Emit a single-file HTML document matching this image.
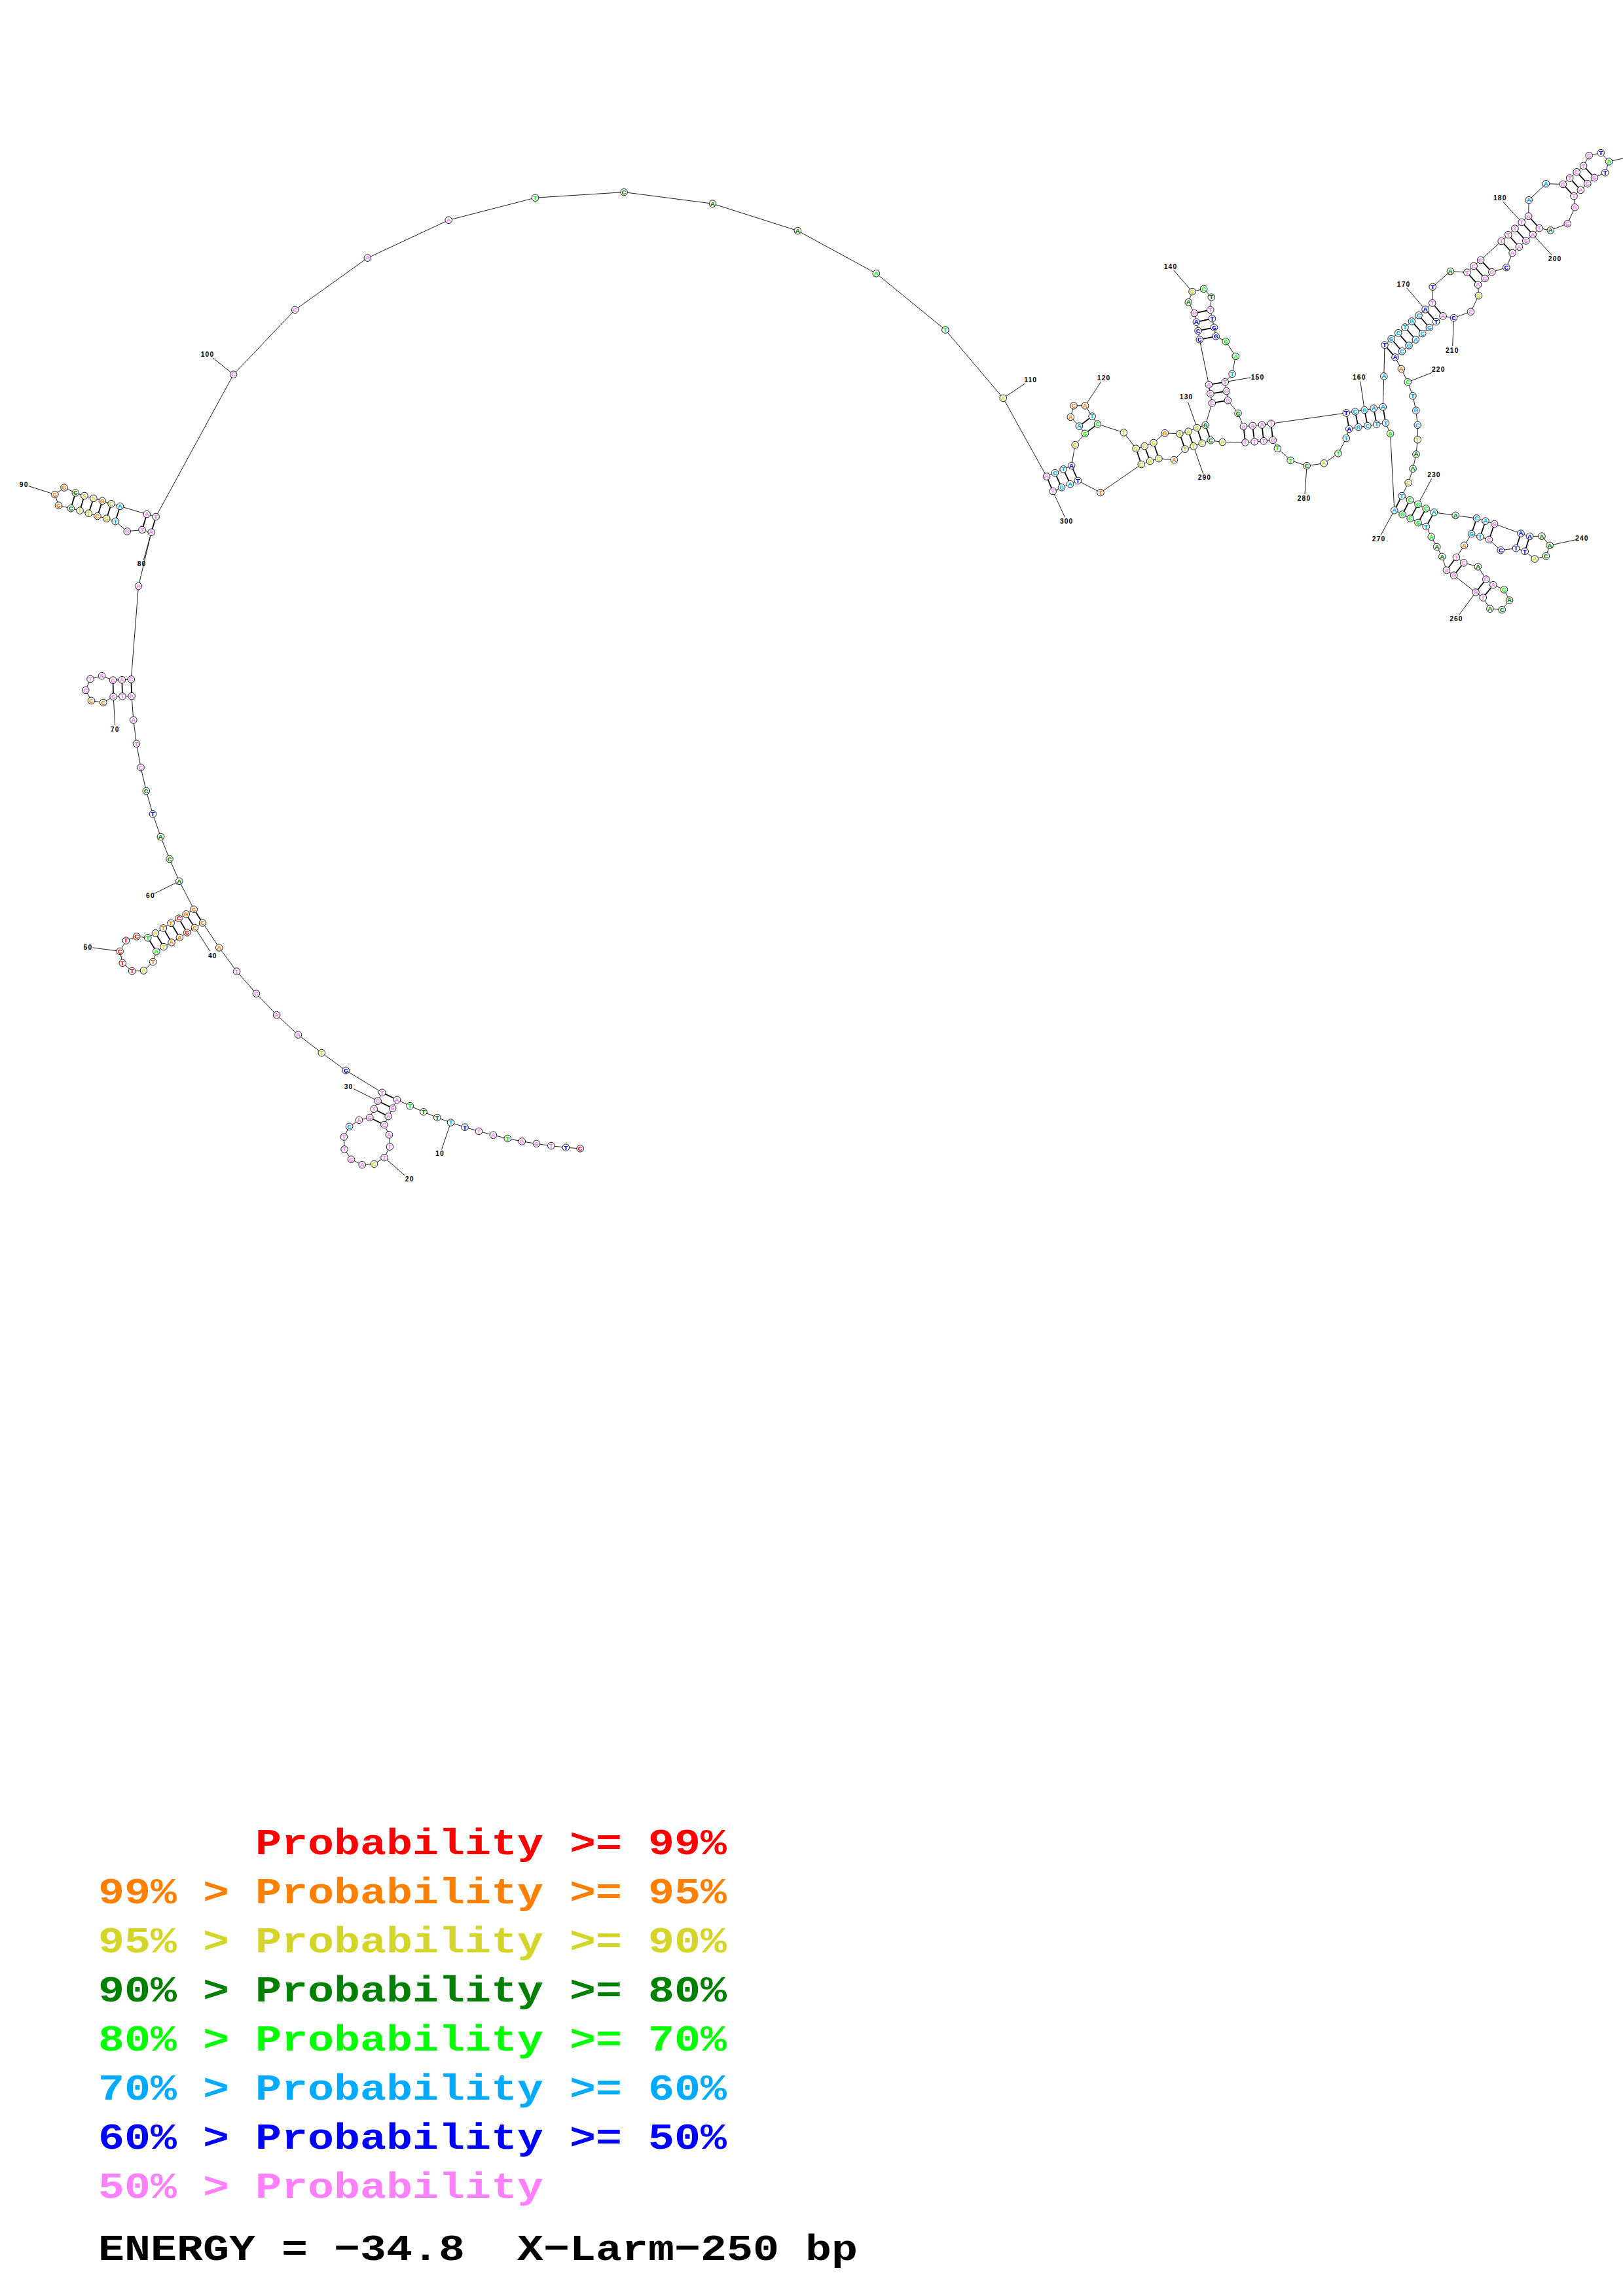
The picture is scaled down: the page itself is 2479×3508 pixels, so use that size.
<!DOCTYPE html>
<html lang="en"><head><meta charset="utf-8"><title>X-Larm-250 bp</title>
<style>
html,body{margin:0;padding:0;background:#fff;}
body{width:2479px;height:3508px;overflow:hidden;}
svg{display:block;}
.bb{fill:none;stroke:#000;stroke-width:0.9;stroke-linejoin:round;}
.lb{stroke:#000;stroke-width:0.9;}
.bp{stroke:#000;stroke-width:1.7;}
.nc{fill:#fff;stroke:#000;stroke-width:0.9;}
.nt{font-family:"Liberation Mono",monospace;font-weight:bold;font-size:10.5px;text-anchor:middle;}
.nl{font-family:"Liberation Sans",sans-serif;font-weight:bold;font-size:10.3px;text-anchor:middle;letter-spacing:1.1px;fill:#000;}
.lg{font-family:"Liberation Mono",monospace;font-weight:bold;font-size:66.67px;white-space:pre;}

.r{fill:#ff0000;}
.o{fill:#ff8000;}
.y{fill:#d4d42b;}
.d{fill:#008000;}
.g{fill:#00ff00;}
.c{fill:#00abff;}
.b{fill:#0000ff;}
.p{fill:#ff80ff;}
</style></head><body>
<svg width="2479" height="3508" viewBox="0 0 2479 3508">
<rect width="2479" height="3508" fill="#fff"/>
<polyline class="bb" points="886.2,1754.8 864.3,1753.3 841.8,1750.6 819.4,1747.4 797.2,1743.9 775.3,1739.5 753.4,1734.3 731.4,1728.4 710.0,1722.2 688.5,1715.1 667.8,1707.5 646.9,1698.8 626.2,1689.7 606.5,1680.3 599.6,1693.2 593.2,1705.7 586.8,1718.5 594.4,1733.8 595.4,1752.1 587.0,1768.6 571.5,1778.4 553.2,1779.7 536.5,1771.3 526.1,1756.0 525.4,1737.0 533.5,1721.3 548.6,1711.4 564.8,1707.5 571.2,1694.4 577.1,1682.1 583.8,1669.3 528.2,1635.5 491.3,1608.7 455.5,1581.0 422.6,1550.8 391.4,1518.1 361.6,1484.2 334.8,1447.9 309.5,1410.0 297.5,1417.4 285.8,1424.8 274.4,1432.5 262.0,1439.9 250.0,1446.6 238.9,1453.7 233.7,1469.7 219.5,1483.0 201.7,1483.6 187.2,1471.3 183.2,1453.4 192.4,1437.1 208.7,1430.9 225.7,1432.8 237.4,1425.7 249.4,1418.0 261.1,1410.3 273.1,1403.2 284.2,1396.7 296.2,1389.3 273.8,1346.3 259.0,1312.5 245.4,1278.5 233.4,1243.8 223.3,1208.5 215.1,1172.6 208.5,1136.3 203.8,1100.1 201.1,1063.6 187.0,1063.9 173.2,1064.4 157.7,1073.5 139.5,1070.5 130.8,1054.5 138.0,1037.5 155.5,1032.6 172.5,1039.2 186.3,1038.7 200.3,1038.0 211.5,895.5 231.2,813.2 217.1,809.5 194.2,811.9 176.2,796.6 162.7,792.2 148.9,788.5 135.3,784.3 122.0,780.1 108.2,776.7 89.5,772.2 83.8,755.5 98.1,745.1 115.3,753.0 128.9,757.5 142.9,761.4 156.3,765.3 170.1,769.8 183.4,773.5 224.3,785.6 238.1,789.5 356.6,572.2 450.6,473.4 561.4,394.1 685.2,336.3 817.6,302.2 953.1,293.6 1088.5,311.2 1218.4,352.6 1338.3,417.8 1443.9,504.0 1532.3,608.4 1598.6,728.0 1611.4,722.6 1624.2,716.9 1636.6,711.5 1642.2,679.7 1657.3,662.4 1648.4,651.1 1635.3,637.3 1640.0,619.8 1657.5,619.8 1668.1,636.0 1676.5,647.9 1716.4,660.9 1735.2,685.3 1748.2,681.6 1762.0,676.5 1779.3,661.7 1801.9,662.9 1815.2,659.2 1828.3,653.5 1841.2,649.4 1851.3,615.9 1848.8,601.6 1846.4,587.8 1832.3,518.8 1830.1,505.4 1827.4,492.1 1824.4,478.6 1815.3,461.8 1821.0,445.6 1838.7,441.4 1850.3,454.2 1848.8,473.4 1851.5,486.7 1854.5,500.3 1857.2,513.8 1872.2,521.7 1887.3,544.4 1882.1,571.3 1871.3,583.6 1873.2,597.6 1875.4,611.7 1891.0,631.4 1899.4,651.6 1913.2,650.4 1927.4,649.1 1941.5,647.2 2056.3,630.9 2069.9,628.9 2084.2,626.5 2098.2,624.0 2112.3,621.8 2113.8,574.9 2115.0,527.1 2125.1,517.8 2135.7,508.7 2146.0,500.0 2156.4,490.9 2167.0,481.8 2177.1,472.9 2187.7,463.0 2188.2,438.2 2215.4,414.6 2240.9,416.2 2251.1,406.4 2261.6,397.4 2293.2,368.5 2303.8,358.7 2313.9,349.1 2324.3,339.5 2334.6,330.3 2335.2,305.7 2361.4,280.7 2387.3,281.5 2397.7,272.1 2408.2,262.8 2418.6,253.4 2427.2,237.7 2445.2,233.6 2457.7,246.9 2451.8,263.7 2435.4,271.5 2424.8,280.7 2414.3,290.4 2404.0,299.6 2405.4,316.8 2394.3,341.7 2368.3,351.9 2351.3,348.6 2341.3,358.4 2330.8,368.0 2320.4,377.2 2310.1,386.5 2300.8,408.7 2278.8,415.7 2268.1,425.5 2257.6,435.1 2258.5,451.7 2246.5,476.3 2220.5,485.7 2204.0,482.8 2193.6,491.6 2183.3,500.5 2172.7,509.6 2162.3,519.0 2152.0,527.9 2141.4,536.7 2131.0,545.9 2140.4,563.6 2150.2,583.8 2157.9,604.8 2162.8,627.2 2165.3,649.4 2165.3,671.8 2163.0,694.0 2158.1,716.2 2151.2,737.6 2141.1,757.6 2153.4,764.0 2166.0,770.4 2178.1,776.9 2190.4,782.8 2223.2,787.5 2255.5,791.9 2269.0,796.1 2282.6,800.5 2323.0,815.1 2336.5,819.5 2355.0,819.2 2367.1,833.3 2361.4,849.6 2344.2,854.0 2329.2,842.4 2315.6,837.7 2292.2,840.7 2274.4,824.4 2260.9,820.0 2247.6,815.6 2236.5,833.3 2224.4,851.5 2235.7,859.9 2257.4,865.8 2269.8,885.1 2280.8,893.7 2297.4,900.8 2305.5,917.1 2294.2,931.6 2275.9,930.2 2265.3,913.1 2254.0,905.0 2220.7,879.1 2209.4,871.3 2202.7,850.5 2194.8,835.5 2186.2,820.2 2178.3,804.5 2166.0,798.5 2154.2,792.1 2142.1,786.0 2129.8,779.8 2123.6,662.4 2116.5,646.2 2102.7,648.1 2088.9,650.6 2074.8,652.6 2060.8,655.3 2056.3,669.6 2044.0,692.8 2022.3,707.8 1996.0,711.7 1971.1,703.4 1951.4,685.1 1944.2,672.5 1930.2,673.8 1916.1,674.8 1902.1,676.0 1867.3,675.5 1849.3,672.8 1836.2,677.2 1823.1,681.9 1810.1,686.1 1793.3,702.6 1769.9,700.6 1756.6,704.6 1743.3,709.5 1680.9,752.6 1646.4,734.4 1634.6,739.6 1621.5,744.7 1608.2,750.6"/>
<g class="lb">
<line x1="688.5" y1="1715.1" x2="674.5" y2="1756.5"/>
<line x1="587.0" y1="1768.6" x2="618.3" y2="1795.9"/>
<line x1="577.1" y1="1682.1" x2="540.2" y2="1663.6"/>
<line x1="297.5" y1="1417.4" x2="320.6" y2="1453.1"/>
<line x1="183.2" y1="1453.4" x2="141.6" y2="1447.9"/>
<line x1="273.8" y1="1346.3" x2="235.6" y2="1365.3"/>
<line x1="173.2" y1="1064.4" x2="175.7" y2="1108.2"/>
<line x1="231.2" y1="813.2" x2="219.3" y2="855.8"/>
<line x1="83.8" y1="755.5" x2="43.9" y2="742.7"/>
<line x1="356.6" y1="572.2" x2="325.1" y2="546.7"/>
<line x1="1532.3" y1="608.4" x2="1565.8" y2="585.8"/>
<line x1="1657.5" y1="619.8" x2="1681.7" y2="583.3"/>
<line x1="1828.3" y1="653.5" x2="1814.3" y2="613.9"/>
<line x1="1821.0" y1="445.6" x2="1792.4" y2="412.5"/>
<line x1="1871.3" y1="583.6" x2="1910.2" y2="576.9"/>
<line x1="2084.2" y1="626.5" x2="2077.8" y2="582.6"/>
<line x1="2177.1" y1="472.9" x2="2148.7" y2="439.9"/>
<line x1="2324.3" y1="339.5" x2="2295.5" y2="308.1"/>
<line x1="2457.7" y1="246.9" x2="2493.2" y2="238.6"/>
<line x1="2341.3" y1="358.4" x2="2370.3" y2="389.8"/>
<line x1="2220.5" y1="485.7" x2="2218.7" y2="529.1"/>
<line x1="2150.2" y1="583.8" x2="2187.4" y2="569.3"/>
<line x1="2166.0" y1="770.4" x2="2186.7" y2="731.3"/>
<line x1="2367.1" y1="833.3" x2="2406.8" y2="824.7"/>
<line x1="2254.0" y1="905.0" x2="2228.6" y2="939.5"/>
<line x1="2129.8" y1="779.8" x2="2109.1" y2="817.5"/>
<line x1="1996.0" y1="711.7" x2="1993.0" y2="755.1"/>
<line x1="1823.1" y1="681.9" x2="1837.7" y2="723.8"/>
<line x1="1608.2" y1="750.6" x2="1626.5" y2="790.3"/>
</g>
<g class="bp">
<line x1="606.5" y1="1680.3" x2="583.8" y2="1669.3"/>
<line x1="599.6" y1="1693.2" x2="577.1" y2="1682.1"/>
<line x1="593.2" y1="1705.7" x2="571.2" y2="1694.4"/>
<line x1="586.8" y1="1718.5" x2="564.8" y2="1707.5"/>
<line x1="309.5" y1="1410.0" x2="296.2" y2="1389.3"/>
<line x1="297.5" y1="1417.4" x2="284.2" y2="1396.7"/>
<line x1="285.8" y1="1424.8" x2="273.1" y2="1403.2"/>
<line x1="274.4" y1="1432.5" x2="261.1" y2="1410.3"/>
<line x1="262.0" y1="1439.9" x2="249.4" y2="1418.0"/>
<line x1="250.0" y1="1446.6" x2="237.4" y2="1425.7"/>
<line x1="238.9" y1="1453.7" x2="225.7" y2="1432.8"/>
<line x1="201.1" y1="1063.6" x2="200.3" y2="1038.0"/>
<line x1="187.0" y1="1063.9" x2="186.3" y2="1038.7"/>
<line x1="173.2" y1="1064.4" x2="172.5" y2="1039.2"/>
<line x1="231.2" y1="813.2" x2="238.1" y2="789.5"/>
<line x1="217.1" y1="809.5" x2="224.3" y2="785.6"/>
<line x1="176.2" y1="796.6" x2="183.4" y2="773.5"/>
<line x1="162.7" y1="792.2" x2="170.1" y2="769.8"/>
<line x1="148.9" y1="788.5" x2="156.3" y2="765.3"/>
<line x1="135.3" y1="784.3" x2="142.9" y2="761.4"/>
<line x1="122.0" y1="780.1" x2="128.9" y2="757.5"/>
<line x1="108.2" y1="776.7" x2="115.3" y2="753.0"/>
<line x1="1598.6" y1="728.0" x2="1608.2" y2="750.6"/>
<line x1="1611.4" y1="722.6" x2="1621.5" y2="744.7"/>
<line x1="1624.2" y1="716.9" x2="1634.6" y2="739.6"/>
<line x1="1636.6" y1="711.5" x2="1646.4" y2="734.4"/>
<line x1="1657.3" y1="662.4" x2="1676.5" y2="647.9"/>
<line x1="1648.4" y1="651.1" x2="1668.1" y2="636.0"/>
<line x1="1735.2" y1="685.3" x2="1743.3" y2="709.5"/>
<line x1="1748.2" y1="681.6" x2="1756.6" y2="704.6"/>
<line x1="1762.0" y1="676.5" x2="1769.9" y2="700.6"/>
<line x1="1801.9" y1="662.9" x2="1810.1" y2="686.1"/>
<line x1="1815.2" y1="659.2" x2="1823.1" y2="681.9"/>
<line x1="1828.3" y1="653.5" x2="1836.2" y2="677.2"/>
<line x1="1841.2" y1="649.4" x2="1849.3" y2="672.8"/>
<line x1="1851.3" y1="615.9" x2="1875.4" y2="611.7"/>
<line x1="1848.8" y1="601.6" x2="1873.2" y2="597.6"/>
<line x1="1846.4" y1="587.8" x2="1871.3" y2="583.6"/>
<line x1="1832.3" y1="518.8" x2="1857.2" y2="513.8"/>
<line x1="1830.1" y1="505.4" x2="1854.5" y2="500.3"/>
<line x1="1827.4" y1="492.1" x2="1851.5" y2="486.7"/>
<line x1="1824.4" y1="478.6" x2="1848.8" y2="473.4"/>
<line x1="1899.4" y1="651.6" x2="1902.1" y2="676.0"/>
<line x1="1913.2" y1="650.4" x2="1916.1" y2="674.8"/>
<line x1="1927.4" y1="649.1" x2="1930.2" y2="673.8"/>
<line x1="1941.5" y1="647.2" x2="1944.2" y2="672.5"/>
<line x1="2056.3" y1="630.9" x2="2060.8" y2="655.3"/>
<line x1="2069.9" y1="628.9" x2="2074.8" y2="652.6"/>
<line x1="2084.2" y1="626.5" x2="2088.9" y2="650.6"/>
<line x1="2098.2" y1="624.0" x2="2102.7" y2="648.1"/>
<line x1="2112.3" y1="621.8" x2="2116.5" y2="646.2"/>
<line x1="2115.0" y1="527.1" x2="2131.0" y2="545.9"/>
<line x1="2125.1" y1="517.8" x2="2141.4" y2="536.7"/>
<line x1="2135.7" y1="508.7" x2="2152.0" y2="527.9"/>
<line x1="2146.0" y1="500.0" x2="2162.3" y2="519.0"/>
<line x1="2156.4" y1="490.9" x2="2172.7" y2="509.6"/>
<line x1="2167.0" y1="481.8" x2="2183.3" y2="500.5"/>
<line x1="2177.1" y1="472.9" x2="2193.6" y2="491.6"/>
<line x1="2187.7" y1="463.0" x2="2204.0" y2="482.8"/>
<line x1="2240.9" y1="416.2" x2="2257.6" y2="435.1"/>
<line x1="2251.1" y1="406.4" x2="2268.1" y2="425.5"/>
<line x1="2261.6" y1="397.4" x2="2278.8" y2="415.7"/>
<line x1="2293.2" y1="368.5" x2="2310.1" y2="386.5"/>
<line x1="2303.8" y1="358.7" x2="2320.4" y2="377.2"/>
<line x1="2313.9" y1="349.1" x2="2330.8" y2="368.0"/>
<line x1="2324.3" y1="339.5" x2="2341.3" y2="358.4"/>
<line x1="2334.6" y1="330.3" x2="2351.3" y2="348.6"/>
<line x1="2387.3" y1="281.5" x2="2404.0" y2="299.6"/>
<line x1="2397.7" y1="272.1" x2="2414.3" y2="290.4"/>
<line x1="2408.2" y1="262.8" x2="2424.8" y2="280.7"/>
<line x1="2418.6" y1="253.4" x2="2435.4" y2="271.5"/>
<line x1="2141.1" y1="757.6" x2="2129.8" y2="779.8"/>
<line x1="2153.4" y1="764.0" x2="2142.1" y2="786.0"/>
<line x1="2166.0" y1="770.4" x2="2154.2" y2="792.1"/>
<line x1="2178.1" y1="776.9" x2="2166.0" y2="798.5"/>
<line x1="2190.4" y1="782.8" x2="2178.3" y2="804.5"/>
<line x1="2255.5" y1="791.9" x2="2247.6" y2="815.6"/>
<line x1="2269.0" y1="796.1" x2="2260.9" y2="820.0"/>
<line x1="2282.6" y1="800.5" x2="2274.4" y2="824.4"/>
<line x1="2323.0" y1="815.1" x2="2315.6" y2="837.7"/>
<line x1="2336.5" y1="819.5" x2="2329.2" y2="842.4"/>
<line x1="2224.4" y1="851.5" x2="2209.4" y2="871.3"/>
<line x1="2235.7" y1="859.9" x2="2220.7" y2="879.1"/>
<line x1="2269.8" y1="885.1" x2="2254.0" y2="905.0"/>
<line x1="2280.8" y1="893.7" x2="2265.3" y2="913.1"/>
</g>
<g class="nc">
<circle cx="886.2" cy="1754.8" r="5.3"/>
<circle cx="864.3" cy="1753.3" r="5.3"/>
<circle cx="841.8" cy="1750.6" r="5.3"/>
<circle cx="819.4" cy="1747.4" r="5.3"/>
<circle cx="797.2" cy="1743.9" r="5.3"/>
<circle cx="775.3" cy="1739.5" r="5.3"/>
<circle cx="753.4" cy="1734.3" r="5.3"/>
<circle cx="731.4" cy="1728.4" r="5.3"/>
<circle cx="710.0" cy="1722.2" r="5.3"/>
<circle cx="688.5" cy="1715.1" r="5.3"/>
<circle cx="667.8" cy="1707.5" r="5.3"/>
<circle cx="646.9" cy="1698.8" r="5.3"/>
<circle cx="626.2" cy="1689.7" r="5.3"/>
<circle cx="606.5" cy="1680.3" r="5.3"/>
<circle cx="599.6" cy="1693.2" r="5.3"/>
<circle cx="593.2" cy="1705.7" r="5.3"/>
<circle cx="586.8" cy="1718.5" r="5.3"/>
<circle cx="594.4" cy="1733.8" r="5.3"/>
<circle cx="595.4" cy="1752.1" r="5.3"/>
<circle cx="587.0" cy="1768.6" r="5.3"/>
<circle cx="571.5" cy="1778.4" r="5.3"/>
<circle cx="553.2" cy="1779.7" r="5.3"/>
<circle cx="536.5" cy="1771.3" r="5.3"/>
<circle cx="526.1" cy="1756.0" r="5.3"/>
<circle cx="525.4" cy="1737.0" r="5.3"/>
<circle cx="533.5" cy="1721.3" r="5.3"/>
<circle cx="548.6" cy="1711.4" r="5.3"/>
<circle cx="564.8" cy="1707.5" r="5.3"/>
<circle cx="571.2" cy="1694.4" r="5.3"/>
<circle cx="577.1" cy="1682.1" r="5.3"/>
<circle cx="583.8" cy="1669.3" r="5.3"/>
<circle cx="528.2" cy="1635.5" r="5.3"/>
<circle cx="491.3" cy="1608.7" r="5.3"/>
<circle cx="455.5" cy="1581.0" r="5.3"/>
<circle cx="422.6" cy="1550.8" r="5.3"/>
<circle cx="391.4" cy="1518.1" r="5.3"/>
<circle cx="361.6" cy="1484.2" r="5.3"/>
<circle cx="334.8" cy="1447.9" r="5.3"/>
<circle cx="309.5" cy="1410.0" r="5.3"/>
<circle cx="297.5" cy="1417.4" r="5.3"/>
<circle cx="285.8" cy="1424.8" r="5.3"/>
<circle cx="274.4" cy="1432.5" r="5.3"/>
<circle cx="262.0" cy="1439.9" r="5.3"/>
<circle cx="250.0" cy="1446.6" r="5.3"/>
<circle cx="238.9" cy="1453.7" r="5.3"/>
<circle cx="233.7" cy="1469.7" r="5.3"/>
<circle cx="219.5" cy="1483.0" r="5.3"/>
<circle cx="201.7" cy="1483.6" r="5.3"/>
<circle cx="187.2" cy="1471.3" r="5.3"/>
<circle cx="183.2" cy="1453.4" r="5.3"/>
<circle cx="192.4" cy="1437.1" r="5.3"/>
<circle cx="208.7" cy="1430.9" r="5.3"/>
<circle cx="225.7" cy="1432.8" r="5.3"/>
<circle cx="237.4" cy="1425.7" r="5.3"/>
<circle cx="249.4" cy="1418.0" r="5.3"/>
<circle cx="261.1" cy="1410.3" r="5.3"/>
<circle cx="273.1" cy="1403.2" r="5.3"/>
<circle cx="284.2" cy="1396.7" r="5.3"/>
<circle cx="296.2" cy="1389.3" r="5.3"/>
<circle cx="273.8" cy="1346.3" r="5.3"/>
<circle cx="259.0" cy="1312.5" r="5.3"/>
<circle cx="245.4" cy="1278.5" r="5.3"/>
<circle cx="233.4" cy="1243.8" r="5.3"/>
<circle cx="223.3" cy="1208.5" r="5.3"/>
<circle cx="215.1" cy="1172.6" r="5.3"/>
<circle cx="208.5" cy="1136.3" r="5.3"/>
<circle cx="203.8" cy="1100.1" r="5.3"/>
<circle cx="201.1" cy="1063.6" r="5.3"/>
<circle cx="187.0" cy="1063.9" r="5.3"/>
<circle cx="173.2" cy="1064.4" r="5.3"/>
<circle cx="157.7" cy="1073.5" r="5.3"/>
<circle cx="139.5" cy="1070.5" r="5.3"/>
<circle cx="130.8" cy="1054.5" r="5.3"/>
<circle cx="138.0" cy="1037.5" r="5.3"/>
<circle cx="155.5" cy="1032.6" r="5.3"/>
<circle cx="172.5" cy="1039.2" r="5.3"/>
<circle cx="186.3" cy="1038.7" r="5.3"/>
<circle cx="200.3" cy="1038.0" r="5.3"/>
<circle cx="211.5" cy="895.5" r="5.3"/>
<circle cx="231.2" cy="813.2" r="5.3"/>
<circle cx="217.1" cy="809.5" r="5.3"/>
<circle cx="194.2" cy="811.9" r="5.3"/>
<circle cx="176.2" cy="796.6" r="5.3"/>
<circle cx="162.7" cy="792.2" r="5.3"/>
<circle cx="148.9" cy="788.5" r="5.3"/>
<circle cx="135.3" cy="784.3" r="5.3"/>
<circle cx="122.0" cy="780.1" r="5.3"/>
<circle cx="108.2" cy="776.7" r="5.3"/>
<circle cx="89.5" cy="772.2" r="5.3"/>
<circle cx="83.8" cy="755.5" r="5.3"/>
<circle cx="98.1" cy="745.1" r="5.3"/>
<circle cx="115.3" cy="753.0" r="5.3"/>
<circle cx="128.9" cy="757.5" r="5.3"/>
<circle cx="142.9" cy="761.4" r="5.3"/>
<circle cx="156.3" cy="765.3" r="5.3"/>
<circle cx="170.1" cy="769.8" r="5.3"/>
<circle cx="183.4" cy="773.5" r="5.3"/>
<circle cx="224.3" cy="785.6" r="5.3"/>
<circle cx="238.1" cy="789.5" r="5.3"/>
<circle cx="356.6" cy="572.2" r="5.3"/>
<circle cx="450.6" cy="473.4" r="5.3"/>
<circle cx="561.4" cy="394.1" r="5.3"/>
<circle cx="685.2" cy="336.3" r="5.3"/>
<circle cx="817.6" cy="302.2" r="5.3"/>
<circle cx="953.1" cy="293.6" r="5.3"/>
<circle cx="1088.5" cy="311.2" r="5.3"/>
<circle cx="1218.4" cy="352.6" r="5.3"/>
<circle cx="1338.3" cy="417.8" r="5.3"/>
<circle cx="1443.9" cy="504.0" r="5.3"/>
<circle cx="1532.3" cy="608.4" r="5.3"/>
<circle cx="1598.6" cy="728.0" r="5.3"/>
<circle cx="1611.4" cy="722.6" r="5.3"/>
<circle cx="1624.2" cy="716.9" r="5.3"/>
<circle cx="1636.6" cy="711.5" r="5.3"/>
<circle cx="1642.2" cy="679.7" r="5.3"/>
<circle cx="1657.3" cy="662.4" r="5.3"/>
<circle cx="1648.4" cy="651.1" r="5.3"/>
<circle cx="1635.3" cy="637.3" r="5.3"/>
<circle cx="1640.0" cy="619.8" r="5.3"/>
<circle cx="1657.5" cy="619.8" r="5.3"/>
<circle cx="1668.1" cy="636.0" r="5.3"/>
<circle cx="1676.5" cy="647.9" r="5.3"/>
<circle cx="1716.4" cy="660.9" r="5.3"/>
<circle cx="1735.2" cy="685.3" r="5.3"/>
<circle cx="1748.2" cy="681.6" r="5.3"/>
<circle cx="1762.0" cy="676.5" r="5.3"/>
<circle cx="1779.3" cy="661.7" r="5.3"/>
<circle cx="1801.9" cy="662.9" r="5.3"/>
<circle cx="1815.2" cy="659.2" r="5.3"/>
<circle cx="1828.3" cy="653.5" r="5.3"/>
<circle cx="1841.2" cy="649.4" r="5.3"/>
<circle cx="1851.3" cy="615.9" r="5.3"/>
<circle cx="1848.8" cy="601.6" r="5.3"/>
<circle cx="1846.4" cy="587.8" r="5.3"/>
<circle cx="1832.3" cy="518.8" r="5.3"/>
<circle cx="1830.1" cy="505.4" r="5.3"/>
<circle cx="1827.4" cy="492.1" r="5.3"/>
<circle cx="1824.4" cy="478.6" r="5.3"/>
<circle cx="1815.3" cy="461.8" r="5.3"/>
<circle cx="1821.0" cy="445.6" r="5.3"/>
<circle cx="1838.7" cy="441.4" r="5.3"/>
<circle cx="1850.3" cy="454.2" r="5.3"/>
<circle cx="1848.8" cy="473.4" r="5.3"/>
<circle cx="1851.5" cy="486.7" r="5.3"/>
<circle cx="1854.5" cy="500.3" r="5.3"/>
<circle cx="1857.2" cy="513.8" r="5.3"/>
<circle cx="1872.2" cy="521.7" r="5.3"/>
<circle cx="1887.3" cy="544.4" r="5.3"/>
<circle cx="1882.1" cy="571.3" r="5.3"/>
<circle cx="1871.3" cy="583.6" r="5.3"/>
<circle cx="1873.2" cy="597.6" r="5.3"/>
<circle cx="1875.4" cy="611.7" r="5.3"/>
<circle cx="1891.0" cy="631.4" r="5.3"/>
<circle cx="1899.4" cy="651.6" r="5.3"/>
<circle cx="1913.2" cy="650.4" r="5.3"/>
<circle cx="1927.4" cy="649.1" r="5.3"/>
<circle cx="1941.5" cy="647.2" r="5.3"/>
<circle cx="2056.3" cy="630.9" r="5.3"/>
<circle cx="2069.9" cy="628.9" r="5.3"/>
<circle cx="2084.2" cy="626.5" r="5.3"/>
<circle cx="2098.2" cy="624.0" r="5.3"/>
<circle cx="2112.3" cy="621.8" r="5.3"/>
<circle cx="2113.8" cy="574.9" r="5.3"/>
<circle cx="2115.0" cy="527.1" r="5.3"/>
<circle cx="2125.1" cy="517.8" r="5.3"/>
<circle cx="2135.7" cy="508.7" r="5.3"/>
<circle cx="2146.0" cy="500.0" r="5.3"/>
<circle cx="2156.4" cy="490.9" r="5.3"/>
<circle cx="2167.0" cy="481.8" r="5.3"/>
<circle cx="2177.1" cy="472.9" r="5.3"/>
<circle cx="2187.7" cy="463.0" r="5.3"/>
<circle cx="2188.2" cy="438.2" r="5.3"/>
<circle cx="2215.4" cy="414.6" r="5.3"/>
<circle cx="2240.9" cy="416.2" r="5.3"/>
<circle cx="2251.1" cy="406.4" r="5.3"/>
<circle cx="2261.6" cy="397.4" r="5.3"/>
<circle cx="2293.2" cy="368.5" r="5.3"/>
<circle cx="2303.8" cy="358.7" r="5.3"/>
<circle cx="2313.9" cy="349.1" r="5.3"/>
<circle cx="2324.3" cy="339.5" r="5.3"/>
<circle cx="2334.6" cy="330.3" r="5.3"/>
<circle cx="2335.2" cy="305.7" r="5.3"/>
<circle cx="2361.4" cy="280.7" r="5.3"/>
<circle cx="2387.3" cy="281.5" r="5.3"/>
<circle cx="2397.7" cy="272.1" r="5.3"/>
<circle cx="2408.2" cy="262.8" r="5.3"/>
<circle cx="2418.6" cy="253.4" r="5.3"/>
<circle cx="2427.2" cy="237.7" r="5.3"/>
<circle cx="2445.2" cy="233.6" r="5.3"/>
<circle cx="2457.7" cy="246.9" r="5.3"/>
<circle cx="2451.8" cy="263.7" r="5.3"/>
<circle cx="2435.4" cy="271.5" r="5.3"/>
<circle cx="2424.8" cy="280.7" r="5.3"/>
<circle cx="2414.3" cy="290.4" r="5.3"/>
<circle cx="2404.0" cy="299.6" r="5.3"/>
<circle cx="2405.4" cy="316.8" r="5.3"/>
<circle cx="2394.3" cy="341.7" r="5.3"/>
<circle cx="2368.3" cy="351.9" r="5.3"/>
<circle cx="2351.3" cy="348.6" r="5.3"/>
<circle cx="2341.3" cy="358.4" r="5.3"/>
<circle cx="2330.8" cy="368.0" r="5.3"/>
<circle cx="2320.4" cy="377.2" r="5.3"/>
<circle cx="2310.1" cy="386.5" r="5.3"/>
<circle cx="2300.8" cy="408.7" r="5.3"/>
<circle cx="2278.8" cy="415.7" r="5.3"/>
<circle cx="2268.1" cy="425.5" r="5.3"/>
<circle cx="2257.6" cy="435.1" r="5.3"/>
<circle cx="2258.5" cy="451.7" r="5.3"/>
<circle cx="2246.5" cy="476.3" r="5.3"/>
<circle cx="2220.5" cy="485.7" r="5.3"/>
<circle cx="2204.0" cy="482.8" r="5.3"/>
<circle cx="2193.6" cy="491.6" r="5.3"/>
<circle cx="2183.3" cy="500.5" r="5.3"/>
<circle cx="2172.7" cy="509.6" r="5.3"/>
<circle cx="2162.3" cy="519.0" r="5.3"/>
<circle cx="2152.0" cy="527.9" r="5.3"/>
<circle cx="2141.4" cy="536.7" r="5.3"/>
<circle cx="2131.0" cy="545.9" r="5.3"/>
<circle cx="2140.4" cy="563.6" r="5.3"/>
<circle cx="2150.2" cy="583.8" r="5.3"/>
<circle cx="2157.9" cy="604.8" r="5.3"/>
<circle cx="2162.8" cy="627.2" r="5.3"/>
<circle cx="2165.3" cy="649.4" r="5.3"/>
<circle cx="2165.3" cy="671.8" r="5.3"/>
<circle cx="2163.0" cy="694.0" r="5.3"/>
<circle cx="2158.1" cy="716.2" r="5.3"/>
<circle cx="2151.2" cy="737.6" r="5.3"/>
<circle cx="2141.1" cy="757.6" r="5.3"/>
<circle cx="2153.4" cy="764.0" r="5.3"/>
<circle cx="2166.0" cy="770.4" r="5.3"/>
<circle cx="2178.1" cy="776.9" r="5.3"/>
<circle cx="2190.4" cy="782.8" r="5.3"/>
<circle cx="2223.2" cy="787.5" r="5.3"/>
<circle cx="2255.5" cy="791.9" r="5.3"/>
<circle cx="2269.0" cy="796.1" r="5.3"/>
<circle cx="2282.6" cy="800.5" r="5.3"/>
<circle cx="2323.0" cy="815.1" r="5.3"/>
<circle cx="2336.5" cy="819.5" r="5.3"/>
<circle cx="2355.0" cy="819.2" r="5.3"/>
<circle cx="2367.1" cy="833.3" r="5.3"/>
<circle cx="2361.4" cy="849.6" r="5.3"/>
<circle cx="2344.2" cy="854.0" r="5.3"/>
<circle cx="2329.2" cy="842.4" r="5.3"/>
<circle cx="2315.6" cy="837.7" r="5.3"/>
<circle cx="2292.2" cy="840.7" r="5.3"/>
<circle cx="2274.4" cy="824.4" r="5.3"/>
<circle cx="2260.9" cy="820.0" r="5.3"/>
<circle cx="2247.6" cy="815.6" r="5.3"/>
<circle cx="2236.5" cy="833.3" r="5.3"/>
<circle cx="2224.4" cy="851.5" r="5.3"/>
<circle cx="2235.7" cy="859.9" r="5.3"/>
<circle cx="2257.4" cy="865.8" r="5.3"/>
<circle cx="2269.8" cy="885.1" r="5.3"/>
<circle cx="2280.8" cy="893.7" r="5.3"/>
<circle cx="2297.4" cy="900.8" r="5.3"/>
<circle cx="2305.5" cy="917.1" r="5.3"/>
<circle cx="2294.2" cy="931.6" r="5.3"/>
<circle cx="2275.9" cy="930.2" r="5.3"/>
<circle cx="2265.3" cy="913.1" r="5.3"/>
<circle cx="2254.0" cy="905.0" r="5.3"/>
<circle cx="2220.7" cy="879.1" r="5.3"/>
<circle cx="2209.4" cy="871.3" r="5.3"/>
<circle cx="2202.7" cy="850.5" r="5.3"/>
<circle cx="2194.8" cy="835.5" r="5.3"/>
<circle cx="2186.2" cy="820.2" r="5.3"/>
<circle cx="2178.3" cy="804.5" r="5.3"/>
<circle cx="2166.0" cy="798.5" r="5.3"/>
<circle cx="2154.2" cy="792.1" r="5.3"/>
<circle cx="2142.1" cy="786.0" r="5.3"/>
<circle cx="2129.8" cy="779.8" r="5.3"/>
<circle cx="2123.6" cy="662.4" r="5.3"/>
<circle cx="2116.5" cy="646.2" r="5.3"/>
<circle cx="2102.7" cy="648.1" r="5.3"/>
<circle cx="2088.9" cy="650.6" r="5.3"/>
<circle cx="2074.8" cy="652.6" r="5.3"/>
<circle cx="2060.8" cy="655.3" r="5.3"/>
<circle cx="2056.3" cy="669.6" r="5.3"/>
<circle cx="2044.0" cy="692.8" r="5.3"/>
<circle cx="2022.3" cy="707.8" r="5.3"/>
<circle cx="1996.0" cy="711.7" r="5.3"/>
<circle cx="1971.1" cy="703.4" r="5.3"/>
<circle cx="1951.4" cy="685.1" r="5.3"/>
<circle cx="1944.2" cy="672.5" r="5.3"/>
<circle cx="1930.2" cy="673.8" r="5.3"/>
<circle cx="1916.1" cy="674.8" r="5.3"/>
<circle cx="1902.1" cy="676.0" r="5.3"/>
<circle cx="1867.3" cy="675.5" r="5.3"/>
<circle cx="1849.3" cy="672.8" r="5.3"/>
<circle cx="1836.2" cy="677.2" r="5.3"/>
<circle cx="1823.1" cy="681.9" r="5.3"/>
<circle cx="1810.1" cy="686.1" r="5.3"/>
<circle cx="1793.3" cy="702.6" r="5.3"/>
<circle cx="1769.9" cy="700.6" r="5.3"/>
<circle cx="1756.6" cy="704.6" r="5.3"/>
<circle cx="1743.3" cy="709.5" r="5.3"/>
<circle cx="1680.9" cy="752.6" r="5.3"/>
<circle cx="1646.4" cy="734.4" r="5.3"/>
<circle cx="1634.6" cy="739.6" r="5.3"/>
<circle cx="1621.5" cy="744.7" r="5.3"/>
<circle cx="1608.2" cy="750.6" r="5.3"/>
</g>
<g class="nt" transform="scale(1.12,0.78)">
<text class="r" x="791.2" y="2253.9">C</text>
<text class="b" x="771.7" y="2252.0">T</text>
<text class="p" x="751.6" y="2248.6">T</text>
<text class="p" x="731.6" y="2244.5">G</text>
<text class="p" x="711.8" y="2240.0">G</text>
<text class="g" x="692.2" y="2234.4">T</text>
<text class="p" x="672.6" y="2227.7">A</text>
<text class="p" x="653.1" y="2220.1">T</text>
<text class="b" x="633.9" y="2212.2">T</text>
<text class="c" x="614.8" y="2203.1">T</text>
<text class="d" x="596.3" y="2193.3">T</text>
<text class="d" x="577.6" y="2182.2">T</text>
<text class="g" x="559.1" y="2170.5">T</text>
<text class="p" x="541.5" y="2158.5">A</text>
<text class="p" x="535.3" y="2174.9">G</text>
<text class="p" x="529.6" y="2191.1">A</text>
<text class="p" x="523.9" y="2207.5">C</text>
<text class="p" x="530.7" y="2227.1">A</text>
<text class="p" x="531.6" y="2250.5">T</text>
<text class="p" x="524.1" y="2271.6">T</text>
<text class="y" x="510.2" y="2284.3">C</text>
<text class="p" x="494.0" y="2285.9">A</text>
<text class="p" x="479.0" y="2275.1">G</text>
<text class="p" x="469.8" y="2255.5">T</text>
<text class="p" x="469.1" y="2231.2">T</text>
<text class="c" x="476.4" y="2211.0">C</text>
<text class="p" x="489.8" y="2198.3">A</text>
<text class="p" x="504.3" y="2193.3">G</text>
<text class="p" x="510.0" y="2176.5">T</text>
<text class="p" x="515.3" y="2160.7">C</text>
<text class="p" x="521.2" y="2144.3">T</text>
<text class="b" x="471.6" y="2101.0">G</text>
<text class="y" x="438.6" y="2066.7">T</text>
<text class="p" x="406.7" y="2031.1">A</text>
<text class="p" x="377.3" y="1992.4">A</text>
<text class="p" x="349.5" y="1950.5">C</text>
<text class="p" x="322.8" y="1907.1">T</text>
<text class="o" x="298.9" y="1860.5">A</text>
<text class="o" x="276.3" y="1811.9">C</text>
<text class="o" x="265.6" y="1821.4">C</text>
<text class="r" x="255.1" y="1830.9">G</text>
<text class="o" x="245.0" y="1840.7">A</text>
<text class="o" x="234.0" y="1850.2">A</text>
<text class="y" x="223.2" y="1858.9">T</text>
<text class="g" x="213.3" y="1868.0">A</text>
<text class="o" x="208.7" y="1888.5">T</text>
<text class="y" x="196.0" y="1905.5">A</text>
<text class="r" x="180.1" y="1906.3">T</text>
<text class="r" x="167.1" y="1890.5">T</text>
<text class="r" x="163.6" y="1867.6">C</text>
<text class="r" x="171.8" y="1846.7">T</text>
<text class="r" x="186.4" y="1838.8">C</text>
<text class="g" x="201.5" y="1841.1">T</text>
<text class="y" x="212.0" y="1832.0">A</text>
<text class="o" x="222.7" y="1822.2">T</text>
<text class="o" x="233.1" y="1812.3">T</text>
<text class="r" x="243.9" y="1803.2">C</text>
<text class="o" x="253.8" y="1794.9">G</text>
<text class="o" x="264.5" y="1785.4">G</text>
<text class="d" x="244.4" y="1730.3">A</text>
<text class="d" x="231.2" y="1687.0">C</text>
<text class="d" x="219.1" y="1643.4">A</text>
<text class="b" x="208.4" y="1598.8">T</text>
<text class="d" x="199.3" y="1553.6">C</text>
<text class="p" x="192.1" y="1507.5">C</text>
<text class="p" x="186.1" y="1461.1">T</text>
<text class="p" x="182.0" y="1414.6">A</text>
<text class="p" x="179.5" y="1367.8">G</text>
<text class="p" x="167.0" y="1368.2">T</text>
<text class="p" x="154.7" y="1368.8">C</text>
<text class="o" x="140.8" y="1380.5">C</text>
<text class="o" x="124.5" y="1376.7">C</text>
<text class="p" x="116.8" y="1356.2">C</text>
<text class="p" x="123.2" y="1334.3">T</text>
<text class="p" x="138.8" y="1328.0">A</text>
<text class="p" x="154.0" y="1336.6">G</text>
<text class="p" x="166.3" y="1335.9">A</text>
<text class="p" x="178.9" y="1335.0">C</text>
<text class="p" x="188.8" y="1152.3">A</text>
<text class="p" x="206.4" y="1046.7">A</text>
<text class="p" x="193.9" y="1042.0">T</text>
<text class="p" x="173.4" y="1045.2">G</text>
<text class="c" x="157.3" y="1025.6">T</text>
<text class="y" x="145.2" y="1019.9">G</text>
<text class="o" x="132.9" y="1015.1">C</text>
<text class="y" x="120.8" y="1009.8">T</text>
<text class="y" x="108.9" y="1004.4">T</text>
<text class="d" x="96.6" y="1000.0">C</text>
<text class="o" x="79.9" y="994.3">G</text>
<text class="o" x="74.8" y="972.8">G</text>
<text class="o" x="87.6" y="959.5">G</text>
<text class="d" x="103.0" y="969.6">G</text>
<text class="y" x="115.1" y="975.3">A</text>
<text class="y" x="127.6" y="980.4">A</text>
<text class="o" x="139.5" y="985.4">G</text>
<text class="y" x="151.8" y="991.1">C</text>
<text class="c" x="163.7" y="995.9">A</text>
<text class="p" x="200.2" y="1011.3">A</text>
<text class="p" x="212.6" y="1016.4">T</text>
<text class="p" x="318.4" y="737.8">C</text>
<text class="p" x="402.3" y="611.2">C</text>
<text class="p" x="501.3" y="509.4">A</text>
<text class="p" x="611.8" y="435.3">A</text>
<text class="g" x="730.0" y="391.7">T</text>
<text class="d" x="851.0" y="380.6">C</text>
<text class="d" x="971.9" y="403.3">A</text>
<text class="d" x="1087.8" y="456.3">A</text>
<text class="g" x="1194.9" y="539.8">A</text>
<text class="g" x="1289.2" y="650.4">T</text>
<text class="y" x="1368.1" y="784.3">A</text>
<text class="p" x="1427.3" y="937.5">A</text>
<text class="c" x="1438.8" y="930.6">C</text>
<text class="c" x="1450.2" y="923.3">T</text>
<text class="b" x="1461.2" y="916.4">A</text>
<text class="y" x="1466.3" y="875.6">C</text>
<text class="g" x="1479.7" y="853.5">G</text>
<text class="c" x="1471.8" y="838.9">A</text>
<text class="o" x="1460.1" y="821.3">A</text>
<text class="o" x="1464.3" y="798.8">C</text>
<text class="o" x="1479.9" y="798.8">A</text>
<text class="c" x="1489.4" y="819.7">T</text>
<text class="g" x="1496.9" y="834.8">C</text>
<text class="y" x="1532.5" y="851.6">T</text>
<text class="y" x="1549.2" y="882.9">G</text>
<text class="y" x="1560.9" y="878.1">C</text>
<text class="y" x="1573.2" y="871.5">G</text>
<text class="o" x="1588.6" y="852.5">G</text>
<text class="y" x="1608.9" y="854.1">A</text>
<text class="y" x="1620.8" y="849.4">A</text>
<text class="y" x="1632.4" y="842.1">G</text>
<text class="d" x="1643.9" y="836.8">G</text>
<text class="p" x="1652.9" y="793.8">C</text>
<text class="p" x="1650.7" y="775.5">C</text>
<text class="p" x="1648.5" y="757.8">A</text>
<text class="b" x="1636.0" y="669.3">C</text>
<text class="b" x="1634.0" y="652.2">C</text>
<text class="b" x="1631.6" y="635.2">A</text>
<text class="p" x="1629.0" y="617.8">G</text>
<text class="d" x="1620.8" y="596.3">A</text>
<text class="y" x="1625.9" y="575.5">G</text>
<text class="g" x="1641.7" y="570.1">C</text>
<text class="d" x="1652.1" y="586.5">T</text>
<text class="p" x="1650.7" y="611.2">T</text>
<text class="b" x="1653.2" y="628.2">T</text>
<text class="b" x="1655.8" y="645.6">G</text>
<text class="b" x="1658.2" y="663.0">G</text>
<text class="g" x="1671.6" y="673.1">G</text>
<text class="g" x="1685.1" y="702.2">A</text>
<text class="c" x="1680.4" y="736.6">T</text>
<text class="p" x="1670.8" y="752.4">T</text>
<text class="p" x="1672.5" y="770.4">G</text>
<text class="p" x="1674.5" y="788.4">G</text>
<text class="d" x="1688.4" y="813.7">G</text>
<text class="p" x="1695.9" y="839.6">A</text>
<text class="p" x="1708.2" y="838.0">A</text>
<text class="p" x="1720.9" y="836.5">A</text>
<text class="p" x="1733.5" y="833.9">T</text>
<text class="b" x="1836.0" y="813.1">T</text>
<text class="c" x="1848.1" y="810.5">C</text>
<text class="c" x="1860.9" y="807.4">G</text>
<text class="c" x="1873.4" y="804.2">A</text>
<text class="c" x="1886.0" y="801.4">A</text>
<text class="c" x="1887.3" y="741.3">A</text>
<text class="b" x="1888.4" y="680.0">T</text>
<text class="c" x="1897.4" y="668.0">G</text>
<text class="c" x="1906.9" y="656.3">C</text>
<text class="c" x="1916.1" y="645.3">T</text>
<text class="c" x="1925.3" y="633.6">G</text>
<text class="c" x="1934.8" y="621.9">C</text>
<text class="b" x="1943.8" y="610.5">A</text>
<text class="p" x="1953.3" y="597.8">T</text>
<text class="b" x="1953.8" y="566.1">T</text>
<text class="d" x="1978.0" y="535.7">A</text>
<text class="p" x="2000.8" y="537.9">T</text>
<text class="p" x="2009.9" y="525.3">C</text>
<text class="p" x="2019.3" y="513.7">G</text>
<text class="p" x="2047.5" y="476.7">T</text>
<text class="p" x="2056.9" y="464.2">T</text>
<text class="p" x="2066.0" y="451.8">T</text>
<text class="p" x="2075.3" y="439.5">T</text>
<text class="p" x="2084.5" y="427.7">A</text>
<text class="c" x="2085.0" y="396.1">A</text>
<text class="c" x="2108.4" y="364.2">A</text>
<text class="p" x="2131.5" y="365.1">G</text>
<text class="p" x="2140.8" y="353.0">T</text>
<text class="p" x="2150.2" y="341.2">C</text>
<text class="p" x="2159.4" y="329.1">T</text>
<text class="p" x="2167.2" y="308.9">G</text>
<text class="b" x="2183.2" y="303.7">T</text>
<text class="g" x="2194.4" y="320.8">A</text>
<text class="b" x="2189.1" y="342.4">T</text>
<text class="p" x="2174.4" y="352.3">G</text>
<text class="p" x="2165.0" y="364.2">G</text>
<text class="p" x="2155.6" y="376.5">A</text>
<text class="p" x="2146.4" y="388.3">T</text>
<text class="p" x="2147.7" y="410.4">G</text>
<text class="p" x="2137.8" y="442.4">G</text>
<text class="d" x="2114.5" y="455.4">A</text>
<text class="p" x="2099.4" y="451.1">T</text>
<text class="p" x="2090.4" y="463.7">A</text>
<text class="p" x="2081.0" y="476.0">G</text>
<text class="p" x="2071.8" y="487.9">A</text>
<text class="p" x="2062.5" y="499.7">A</text>
<text class="b" x="2054.3" y="528.1">C</text>
<text class="p" x="2034.7" y="537.1">C</text>
<text class="p" x="2025.1" y="549.7">G</text>
<text class="p" x="2015.7" y="562.0">A</text>
<text class="y" x="2016.5" y="583.4">G</text>
<text class="p" x="2005.8" y="614.9">C</text>
<text class="b" x="1982.6" y="627.0">C</text>
<text class="p" x="1967.8" y="623.2">A</text>
<text class="b" x="1958.6" y="634.5">T</text>
<text class="c" x="1949.3" y="645.9">G</text>
<text class="c" x="1939.9" y="657.6">C</text>
<text class="c" x="1930.6" y="669.6">A</text>
<text class="c" x="1921.4" y="681.0">G</text>
<text class="c" x="1911.9" y="692.4">C</text>
<text class="b" x="1902.7" y="704.1">A</text>
<text class="o" x="1911.0" y="726.8">A</text>
<text class="g" x="1919.8" y="752.7">C</text>
<text class="c" x="1926.7" y="779.6">T</text>
<text class="c" x="1931.1" y="808.3">G</text>
<text class="c" x="1933.3" y="836.8">C</text>
<text class="y" x="1933.3" y="865.5">T</text>
<text class="d" x="1931.3" y="894.0">A</text>
<text class="d" x="1926.9" y="922.4">A</text>
<text class="y" x="1920.7" y="949.9">C</text>
<text class="c" x="1911.7" y="975.6">T</text>
<text class="g" x="1922.7" y="983.8">C</text>
<text class="g" x="1933.9" y="992.0">G</text>
<text class="g" x="1944.7" y="1000.2">C</text>
<text class="c" x="1955.7" y="1007.8">A</text>
<text class="d" x="1985.0" y="1013.8">A</text>
<text class="c" x="2013.8" y="1019.5">C</text>
<text class="c" x="2025.9" y="1024.8">A</text>
<text class="p" x="2038.0" y="1030.5">G</text>
<text class="b" x="2074.1" y="1049.2">A</text>
<text class="b" x="2086.2" y="1054.9">A</text>
<text class="d" x="2102.7" y="1054.5">A</text>
<text class="d" x="2113.5" y="1072.6">A</text>
<text class="d" x="2108.4" y="1093.4">C</text>
<text class="y" x="2093.0" y="1099.1">A</text>
<text class="b" x="2079.6" y="1084.3">T</text>
<text class="b" x="2067.5" y="1078.2">T</text>
<text class="b" x="2046.6" y="1082.0">C</text>
<text class="p" x="2030.8" y="1061.2">C</text>
<text class="c" x="2018.6" y="1055.5">T</text>
<text class="c" x="2006.8" y="1049.8">G</text>
<text class="o" x="1996.9" y="1072.6">A</text>
<text class="p" x="1986.1" y="1095.9">T</text>
<text class="p" x="1996.2" y="1106.7">C</text>
<text class="d" x="2015.6" y="1114.3">A</text>
<text class="p" x="2026.6" y="1138.9">C</text>
<text class="p" x="2036.5" y="1150.0">A</text>
<text class="g" x="2051.2" y="1159.1">G</text>
<text class="d" x="2058.5" y="1180.0">A</text>
<text class="d" x="2048.4" y="1198.6">C</text>
<text class="d" x="2032.1" y="1196.7">A</text>
<text class="p" x="2022.6" y="1174.9">T</text>
<text class="p" x="2012.5" y="1164.5">G</text>
<text class="p" x="1982.8" y="1131.3">G</text>
<text class="p" x="1972.7" y="1121.2">A</text>
<text class="d" x="1966.7" y="1094.7">A</text>
<text class="d" x="1959.7" y="1075.4">A</text>
<text class="g" x="1952.0" y="1055.8">A</text>
<text class="c" x="1944.9" y="1035.6">T</text>
<text class="g" x="1933.9" y="1028.0">G</text>
<text class="g" x="1923.4" y="1019.8">C</text>
<text class="g" x="1912.6" y="1011.9">G</text>
<text class="c" x="1901.6" y="1004.0">A</text>
<text class="g" x="1896.1" y="853.5">A</text>
<text class="c" x="1889.7" y="832.7">T</text>
<text class="c" x="1877.4" y="835.2">T</text>
<text class="c" x="1865.1" y="838.3">C</text>
<text class="c" x="1852.5" y="840.9">G</text>
<text class="b" x="1840.0" y="844.3">A</text>
<text class="c" x="1836.0" y="862.7">T</text>
<text class="g" x="1825.0" y="892.4">T</text>
<text class="y" x="1805.7" y="911.7">A</text>
<text class="d" x="1782.1" y="916.7">C</text>
<text class="g" x="1759.9" y="906.0">T</text>
<text class="g" x="1742.3" y="882.6">T</text>
<text class="p" x="1735.9" y="866.5">G</text>
<text class="p" x="1723.4" y="868.0">T</text>
<text class="p" x="1710.8" y="869.3">T</text>
<text class="p" x="1698.3" y="870.9">T</text>
<text class="y" x="1667.2" y="870.3">A</text>
<text class="d" x="1651.2" y="866.8">C</text>
<text class="y" x="1639.5" y="872.4">C</text>
<text class="y" x="1627.8" y="878.4">T</text>
<text class="y" x="1616.1" y="883.8">T</text>
<text class="o" x="1601.2" y="905.0">A</text>
<text class="y" x="1580.3" y="902.5">C</text>
<text class="y" x="1568.4" y="907.5">G</text>
<text class="y" x="1556.5" y="913.8">C</text>
<text class="o" x="1500.8" y="969.1">T</text>
<text class="b" x="1470.0" y="945.7">T</text>
<text class="c" x="1459.5" y="952.4">A</text>
<text class="c" x="1447.8" y="959.0">G</text>
<text class="p" x="1435.9" y="966.6">T</text>
</g>
<g class="nl">
<text x="672.0" y="1766.3">10</text>
<text x="625.7" y="1805.4">20</text>
<text x="532.5" y="1664.2">30</text>
<text x="324.8" y="1464.1">40</text>
<text x="134.4" y="1450.6">50</text>
<text x="229.9" y="1372.0">60</text>
<text x="175.7" y="1118.2">70</text>
<text x="216.6" y="865.1">80</text>
<text x="36.7" y="744.3">90</text>
<text x="317.0" y="545.2">100</text>
<text x="1574.2" y="584.2">110</text>
<text x="1686.1" y="581.2">120</text>
<text x="1812.1" y="610.3">130</text>
<text x="1788.0" y="411.2">140</text>
<text x="1921.0" y="579.5">150</text>
<text x="2076.3" y="580.3">160</text>
<text x="2144.1" y="438.1">170</text>
<text x="2291.3" y="306.2">180</text>
<text x="2512.2" y="229.8">190</text>
<text x="2375.1" y="399.3">200</text>
<text x="2218.3" y="539.4">210</text>
<text x="2197.3" y="568.4">220</text>
<text x="2190.4" y="729.4">230</text>
<text x="2416.4" y="826.3">240</text>
<text x="2224.4" y="949.3">260</text>
<text x="2106.1" y="827.0">270</text>
<text x="1992.0" y="765.1">280</text>
<text x="1839.9" y="733.3">290</text>
<text x="1629.2" y="800.3">300</text>
</g>
<g class="lg">
<text class="r" transform="translate(150,2833) scale(1,0.845)" xml:space="preserve">      Probability &gt;= 99%</text>
<text class="o" transform="translate(150,2908) scale(1,0.845)" xml:space="preserve">99% &gt; Probability &gt;= 95%</text>
<text class="y" transform="translate(150,2983) scale(1,0.845)" xml:space="preserve">95% &gt; Probability &gt;= 90%</text>
<text class="d" transform="translate(150,3058) scale(1,0.845)" xml:space="preserve">90% &gt; Probability &gt;= 80%</text>
<text class="g" transform="translate(150,3133) scale(1,0.845)" xml:space="preserve">80% &gt; Probability &gt;= 70%</text>
<text class="c" transform="translate(150,3208) scale(1,0.845)" xml:space="preserve">70% &gt; Probability &gt;= 60%</text>
<text class="b" transform="translate(150,3283) scale(1,0.845)" xml:space="preserve">60% &gt; Probability &gt;= 50%</text>
<text class="p" transform="translate(150,3358) scale(1,0.845)" xml:space="preserve">50% &gt; Probability</text>
<text transform="translate(150,3453) scale(1,0.845)" fill="#000" xml:space="preserve">ENERGY = −34.8  X−Larm−250 bp</text>
</g>
</svg></body></html>
